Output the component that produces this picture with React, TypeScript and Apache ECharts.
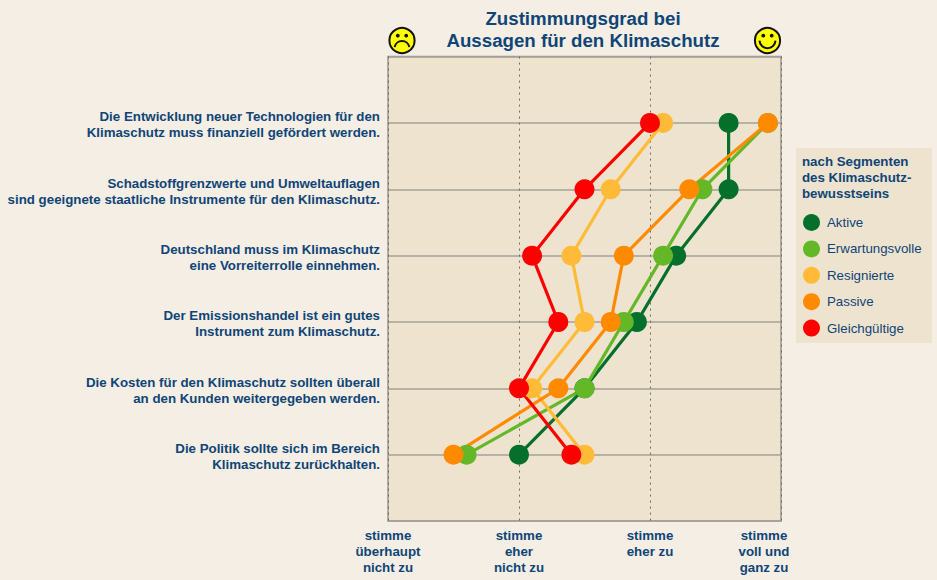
import React, { useEffect, useRef } from "react";
import * as echarts from "echarts";

const statements = [
  "Die Entwicklung neuer Technologien für den\nKlimaschutz muss finanziell gefördert werden.",
  "Schadstoffgrenzwerte und Umweltauflagen\nsind geeignete staatliche Instrumente für den Klimaschutz.",
  "Deutschland muss im Klimaschutz\neine Vorreiterrolle einnehmen.",
  "Der Emissionshandel ist ein gutes\nInstrument zum Klimaschutz.",
  "Die Kosten für den Klimaschutz sollten überall\nan den Kunden weitergegeben werden.",
  "Die Politik sollte sich im Bereich\nKlimaschutz zurückhalten.",
];
const scaleLabels = [
  "stimme\nüberhaupt\nnicht zu",
  "stimme\neher\nnicht zu",
  "stimme\neher zu",
  "stimme\nvoll und\nganz zu",
];
const aktive = [3.6, 3.6, 3.2, 2.9, 2.5, 2.0];
const erwartungsvolle = [3.9, 3.4, 3.1, 2.8, 2.5, 1.6];
const resignierte = [3.1, 2.7, 2.4, 2.5, 2.1, 2.5];
const passive = [3.9, 3.3, 2.8, 2.7, 2.3, 1.5];
const gleichgueltige = [3.0, 2.5, 2.1, 2.3, 2.0, 2.4];
const segments: [string, number[], string][] = [
  ["Aktive", aktive, "#04702c"],
  ["Erwartungsvolle", erwartungsvolle, "#64b828"],
  ["Resignierte", resignierte, "#ffbb38"],
  ["Passive", passive, "#ff8a00"],
  ["Gleichgültige", gleichgueltige, "#ff0000"],
];

const BLUE = "#0f4577";
const BG = "#f5eee4";
const PANEL = "#eee3ce";
const FONT = '"Liberation Sans", Arial, sans-serif';

function face(cx: number, cy: number, happy: boolean) {
  return {
    type: "group",
    children: [
      { type: "circle", shape: { cx, cy, r: 12.6 }, style: { fill: "#ffff00", stroke: "#111", lineWidth: 2 } },
      { type: "circle", shape: { cx: cx - 4.2, cy: cy - 4.8, r: 1.9 }, style: { fill: "#111" } },
      { type: "circle", shape: { cx: cx + 4.2, cy: cy - 4.8, r: 1.9 }, style: { fill: "#111" } },
      happy
        ? { type: "arc", shape: { cx, cy: cy - 0.3, r: 8, startAngle: 0.05, endAngle: Math.PI - 0.05 }, style: { stroke: "#111", lineWidth: 2, fill: "none" } }
        : { type: "arc", shape: { cx, cy: cy + 8, r: 7.5, startAngle: Math.PI + 0.18, endAngle: 2 * Math.PI - 0.18 }, style: { stroke: "#111", lineWidth: 2, fill: "none" } },
    ],
  };
}

const richBase = { color: BLUE, fontWeight: "bold", fontSize: 13.3, lineHeight: 16, fontFamily: FONT };

export default function App() {
  const ref = useRef<HTMLDivElement>(null);
  useEffect(() => {
    document.body.style.margin = "0";
    document.body.style.background = BG;
    const chart = echarts.init(ref.current!, undefined, { renderer: "svg" });
    chart.setOption({
      animation: false,
      backgroundColor: BG,
      textStyle: { fontFamily: FONT },
      title: {
        text: "Zustimmungsgrad bei\nAussagen für den Klimaschutz",
        left: 583,
        top: 7,
        padding: 0,
        textAlign: "center",
        textStyle: { color: BLUE, fontSize: 18.7, fontWeight: "bold", lineHeight: 22.5, fontFamily: FONT },
      },
      grid: {
        left: 388,
        right: 156,
        top: 56.6,
        bottom: 59,
        show: true,
        backgroundColor: PANEL,
        borderWidth: 1.5,
        borderColor: "#9a968c",
      },
      xAxis: {
        type: "value",
        min: 1,
        max: 4,
        interval: 1,
        axisLine: { show: false },
        axisTick: { show: false },
        splitLine: { show: true, lineStyle: { color: "#6f6a62", type: [2, 4], width: 1 } },
        axisLabel: {
          margin: 6,
          color: BLUE,
          fontWeight: "bold",
          fontSize: 13.3,
          lineHeight: 16,
          verticalAlign: "top",
          fontFamily: FONT,
          formatter: (v: number) =>
            v === 4
              ? scaleLabels[3].split("\n").map((l) => `{last|${l}}`).join("\n")
              : scaleLabels[v - 1],
          rich: {
            last: { ...richBase, padding: [0, 34, 0, 0] },
          },
        },
      },
      yAxis: {
        type: "value",
        min: 0,
        max: 7,
        interval: 1,
        inverse: true,
        axisLine: { show: false },
        axisTick: { show: false },
        splitLine: { show: true, lineStyle: { color: "#a6a298", width: 1.5 } },
        axisLabel: {
          margin: 8,
          color: BLUE,
          fontWeight: "bold",
          fontSize: 13.3,
          lineHeight: 16,
          align: "right",
          fontFamily: FONT,
          formatter: (v: number) => {
            const s = statements[v - 1];
            if (!s) return "";
            return s.split("\n").map((l) => `{a|${l}}`).join("\n");
          },
          rich: {
            a: { ...richBase, padding: [4, 0, 0, 0] },
          },
        },
      },
      legend: {
        orient: "vertical",
        left: 803,
        top: 214,
        padding: 0,
        itemWidth: 17,
        itemHeight: 17,
        itemGap: 9.4,
        icon: "circle",
        selectedMode: false,
        textStyle: { color: BLUE, fontSize: 13.3, fontFamily: FONT, padding: [0, 0, 0, 2] },
        data: segments.map((s) => s[0]),
      },
      graphic: [
        { type: "rect", shape: { x: 796, y: 148, width: 136, height: 195 }, style: { fill: PANEL }, silent: true },
        {
          type: "text",
          x: 802,
          y: 153,
          style: {
            text: "nach Segmenten\ndes Klimaschutz-\nbewusstseins",
            fill: BLUE,
            font: `bold 13.3px ${FONT}`,
            lineHeight: 16,
          },
        },
        face(402, 40.5, false),
        face(767.5, 40.5, true),
      ],
      series: segments.map(([name, values, color]) => ({
        name,
        type: "line",
        data: values.map((v, i) => [v, i + 1]),
        symbol: "circle",
        symbolSize: 20,
        clip: false,
        lineStyle: { color, width: 3.2 },
        itemStyle: { color },
        emphasis: { disabled: true },
      })),
    });
    return () => chart.dispose();
  }, []);
  return <div ref={ref} style={{ width: 937, height: 580 }} />;
}
